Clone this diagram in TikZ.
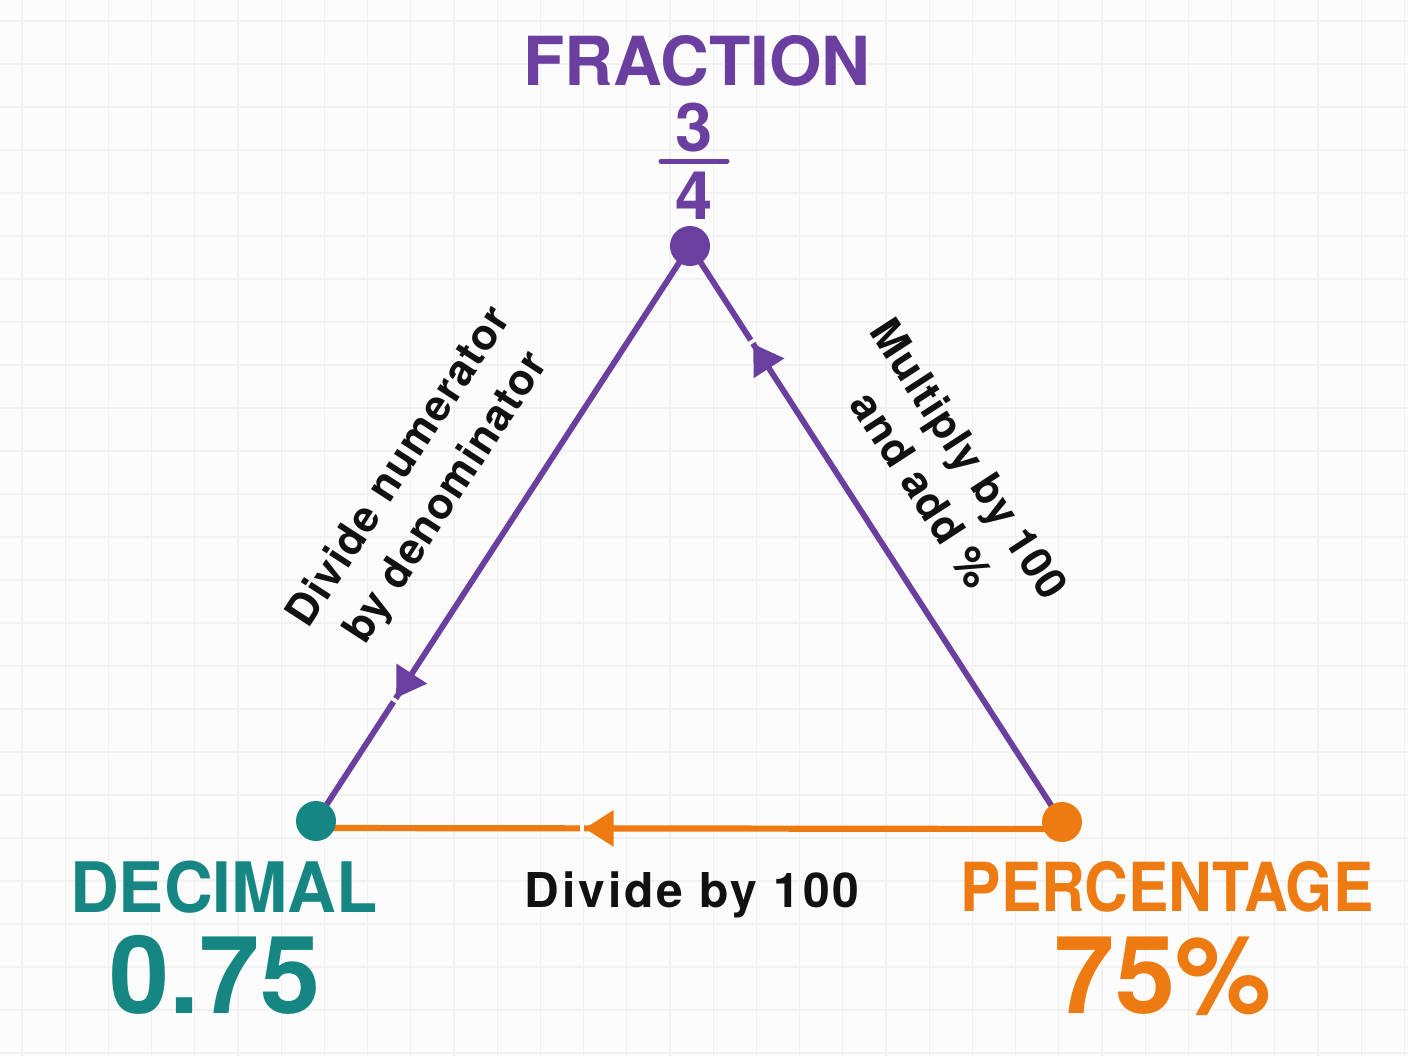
\documentclass[tikz,border=0pt]{standalone}
\usepackage{fontspec}
\setmainfont{TeX Gyre Heros}
\newfontfamily\annfont{TeX Gyre Heros}[LetterSpace=3]
\newfontfamily\annwidefont{TeX Gyre Heros}[LetterSpace=6]
\usetikzlibrary{arrows.meta,decorations.markings}
\definecolor{fracc}{HTML}{6B3FA0}
\definecolor{decc}{HTML}{168682}
\definecolor{pctc}{HTML}{EE7A12}
\definecolor{bgc}{HTML}{FCFCFC}
\definecolor{gridc}{HTML}{F1F1F1}
\definecolor{txtc}{HTML}{111111}
\tikzset{
  dot/.style={circle, fill=#1, minimum size=20pt, inner sep=0pt},
  bigtitle/.style={font=\bfseries\fontsize{33.8}{36}\selectfont, inner sep=0pt},
  bignum/.style={font=\bfseries\fontsize{54}{58}\selectfont, inner sep=0pt},
  ann/.style={font=\annfont\bfseries\fontsize{21.5}{28}\selectfont, text=txtc, inner sep=0pt, align=center},
  conn/.style={line width=#1, postaction={decorate}},
  tipat/.style={decoration={markings, mark=at position #1 with {
      \fill[bgc] (0.4pt,-3.2pt) rectangle (2.2pt,3.2pt);
      \arrow{Triangle[length=14.5pt,width=17.5pt]}}}}
}
\begin{document}
\begin{tikzpicture}[x=0.5pt,y=-0.5pt]
\fill[bgc] (0,0) rectangle (1408,1056);
\useasboundingbox (0,0) rectangle (1408,1056);
\foreach \i in {0,...,32} \draw[gridc, line width=0.6pt] ({22+43.2*\i},0) -- ({22+43.2*\i},1056);
\foreach \j in {0,...,24} \draw[gridc, line width=0.6pt] (0,{21+43*\j}) -- (1408,{21+43*\j});

% vertices
\coordinate (F) at (690,246);
\coordinate (D) at (316,821);
\coordinate (P) at (1062,822);

% connectors
\draw[fracc, conn=2.9pt, tipat=0.786] (F) -- (D);
\draw[fracc, conn=2.9pt, tipat=0.83] (P) -- (F);
\draw[pctc, conn=3.1pt, tipat=0.64] ([yshift=-3.5pt]P) -- ([yshift=-3.5pt]D);

% dots
\node[dot=fracc] (Fdot) at (F) {};
\node[dot=decc] (Ddot) at (D) {};
\node[dot=pctc] (Pdot) at (P) {};

% fraction label
\node[bigtitle, text=fracc] (Ftitle) at (697,61) {FRACTION};
\node[font=\bfseries\fontsize{33.5}{36}\selectfont, text=fracc, inner sep=0pt] (num) at (694,128) {3};
\node[font=\bfseries\fontsize{33.5}{36}\selectfont, text=fracc, inner sep=0pt] (den) at (694,196) {4};
\coordinate (barL) at (661,161);
\coordinate (barR) at (727,161);
\draw[fracc, line width=2.5pt, line cap=round] (barL) -- (barR);

% decimal label
\node[bigtitle, font=\bfseries\fontsize{34.8}{38}\selectfont, text=decc] (Dtitle) at (224,887) {\scalebox{0.97}[1]{DECIMAL}};
\node[bignum, text=decc] (Dval) at (215,975) {0.75};

% percentage label
\node[bigtitle, text=pctc] (Ptitle) at (1167,887) {\scalebox{0.895}[1]{PERCENTAGE}};
\node[bignum, text=pctc] (Pval) at (1163,976) {75\%};

% annotations
\node[ann, rotate=57] (lab1) at (424,483) {Divide numerator\\by denominator};
\node[ann, rotate=-57] (lab2) at (946,474) {Multiply by 100\\and add \%};
\node[ann, anchor=base, font=\annwidefont\bfseries\fontsize{24}{28}\selectfont] (lab3) at (692,907) {Divide by 100};
\end{tikzpicture}
\end{document}
